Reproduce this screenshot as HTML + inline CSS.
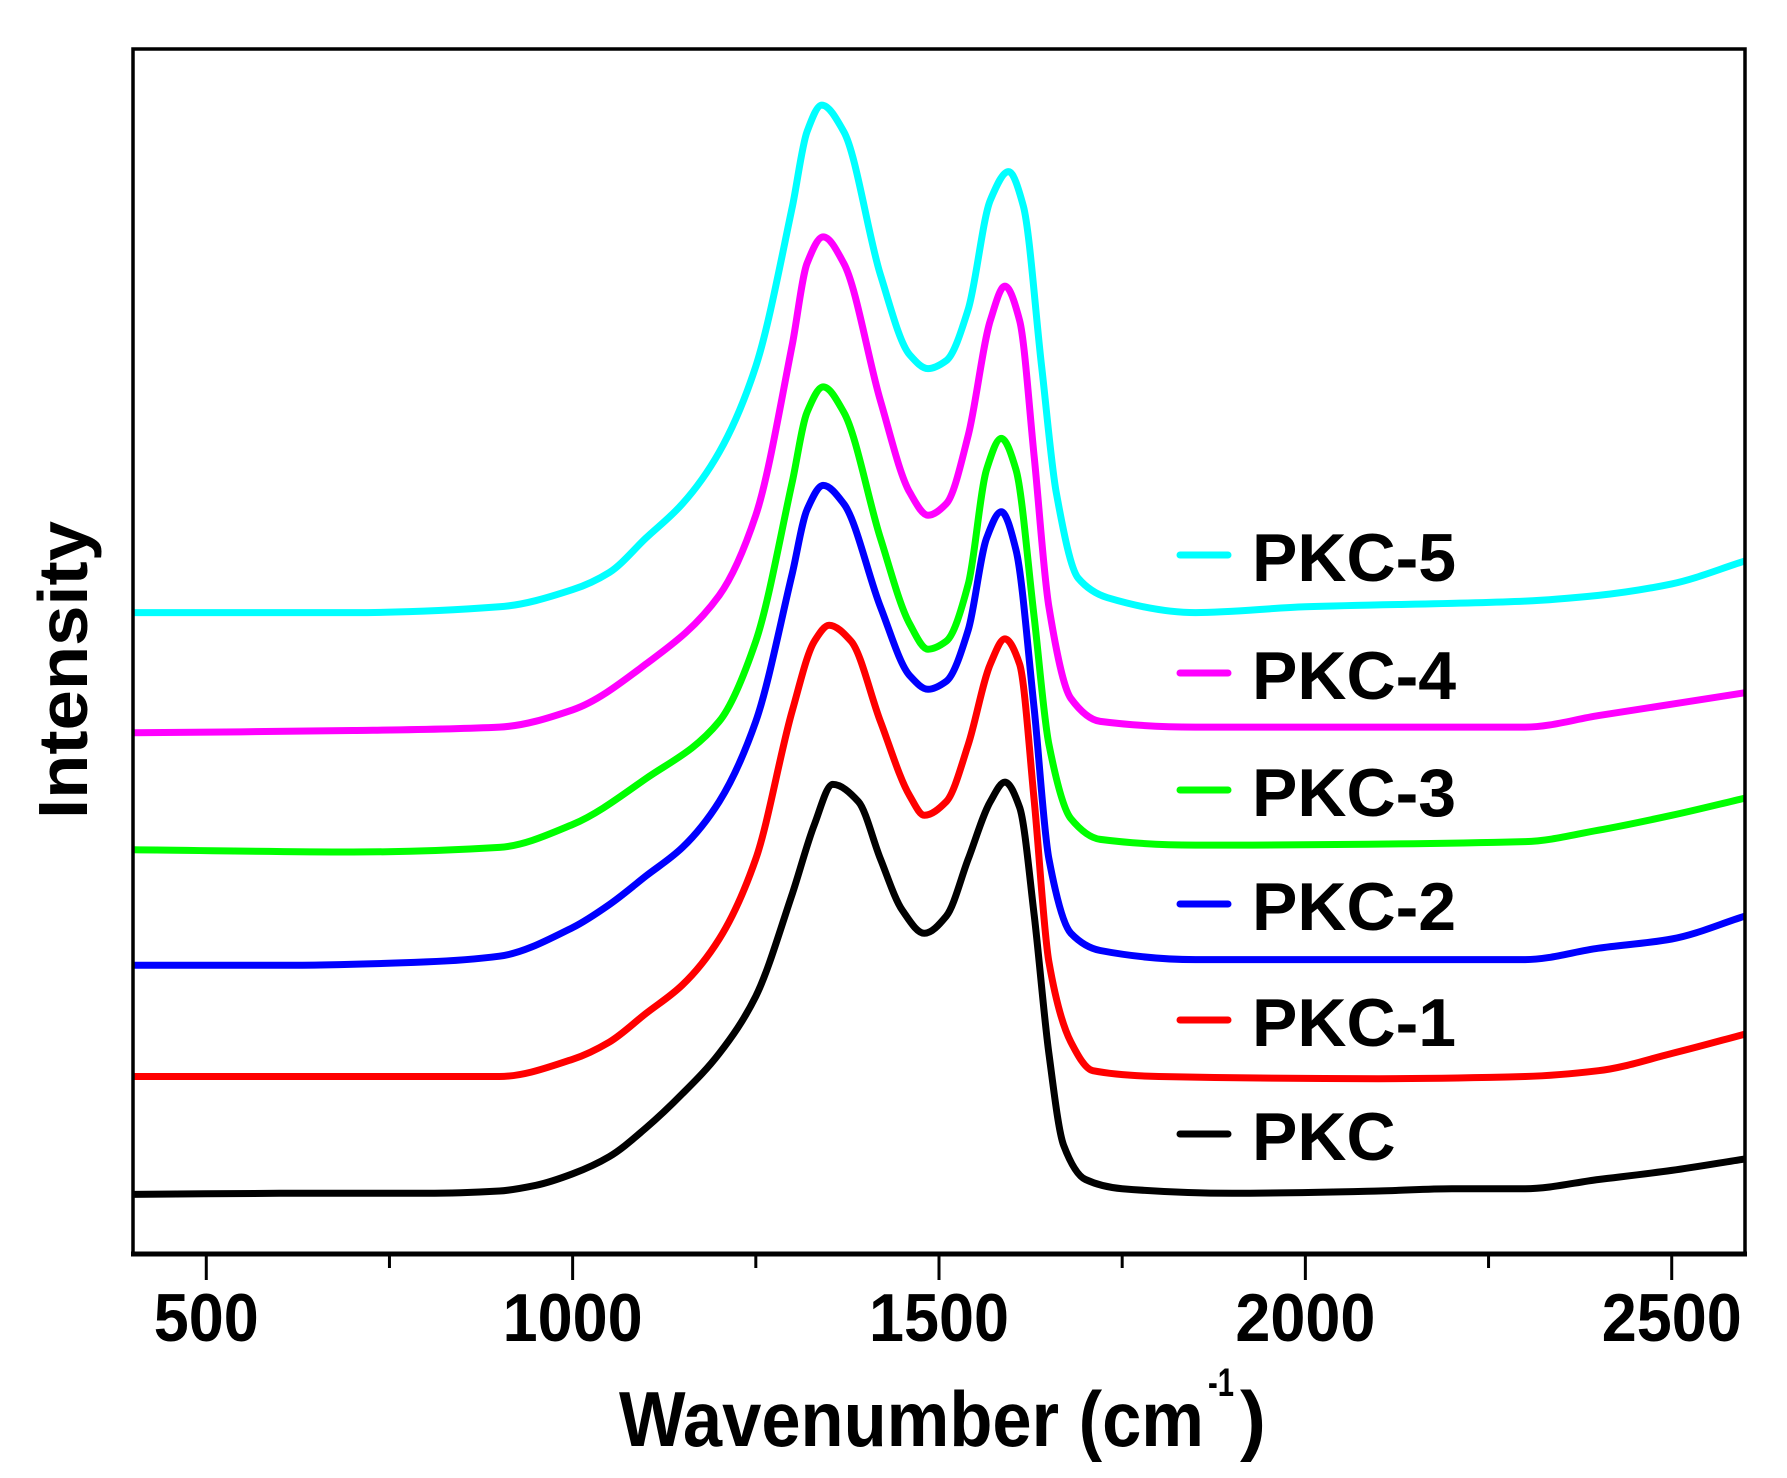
<!DOCTYPE html>
<html><head><meta charset="utf-8"><style>
html,body{margin:0;padding:0;background:#fff;}
svg{display:block;font-family:"Liberation Sans",Arial,sans-serif;font-weight:bold;}
</style></head><body>
<svg id="chart" width="1787" height="1478" viewBox="0 0 1787 1478" xmlns="http://www.w3.org/2000/svg">
<g id="plot"></g>
</svg>
<script>
const xTicks = [500,1000,1500,2000,2500];
const xMinorTicks = [750,1250,1750,2250];
const seriesNames = ["PKC","PKC-1","PKC-2","PKC-3","PKC-4","PKC-5"];
const seriesColors = ["#000000","#ff0000","#0000ff","#00ff00","#ff00ff","#00ffff"];
const xPKC = [400,600,800,900,950,1000,1050,1100,1150,1200,1250,1300,1330,1355,1390,1420,1450,1480,1510,1540,1570,1590,1610,1630,1650,1670,1700,1750,1900,2100,2200,2300,2400,2500,2600];
const yPKC = [52,53,53,55,60,70,85,110,140,175,225,315,375,410,395,345,300,280,295,345,395,412,390,295,175,95,65,57,53,55,57,57,65,73,83];
const xPKC1 = [400,600,800,900,1000,1050,1100,1150,1200,1250,1300,1330,1350,1380,1420,1460,1480,1510,1540,1570,1590,1610,1630,1650,1680,1710,1800,2100,2300,2400,2500,2600];
const yPKC1 = [155,155,155,155,170,185,210,235,275,345,475,535,549,535,465,400,383,395,445,515,537,515,395,255,185,160,155,153,155,160,175,192];
const xPKC2 = [400,600,800,900,1000,1050,1100,1150,1200,1250,1300,1320,1342,1370,1420,1460,1485,1510,1540,1565,1585,1605,1630,1650,1680,1720,1850,2000,2300,2400,2500,2600];
const yPKC2 = [252,252,255,260,285,305,330,355,395,465,595,650,671,655,565,505,493,500,545,625,648,615,475,345,280,265,257,257,257,267,275,295];
const xPKC3 = [400,700,900,1000,1100,1200,1250,1300,1320,1342,1370,1420,1460,1485,1510,1540,1565,1585,1605,1630,1650,1680,1720,1850,2300,2400,2500,2600];
const yPKC3 = [353,351,355,375,415,465,535,675,735,757,735,625,550,528,535,585,685,712,685,555,445,380,362,357,360,370,383,398];
const xPKC4 = [400,700,900,1000,1100,1200,1250,1300,1320,1342,1370,1420,1460,1485,1510,1540,1570,1590,1610,1630,1650,1680,1720,1850,2300,2400,2500,2600];
const yPKC4 = [455,457,460,475,515,575,645,795,865,888,865,745,665,645,655,715,815,845,815,695,565,485,465,460,460,470,480,490];
const xPKC5 = [400,700,900,1000,1050,1100,1150,1200,1250,1300,1320,1340,1370,1420,1460,1485,1510,1540,1570,1595,1615,1640,1660,1690,1730,1850,2000,2300,2400,2500,2600];
const yPKC5 = [560,560,565,580,595,625,655,700,775,915,980,1003,980,855,785,773,780,825,920,945,915,775,665,590,573,560,565,570,575,585,605];

const L=133,R=1745,T=49,B=1254;
const X0=400,X1=2600,Y0=0,Y1=1052;
function sx(v){return L+(v-X0)/(X1-X0)*(R-L);}
function sy(v){return B-(v-Y0)/(Y1-Y0)*(B-T);}
const NS="http://www.w3.org/2000/svg";
const g=document.getElementById('plot');
function mk(tag,attrs){const e=document.createElementNS(NS,tag);for(const k in attrs)e.setAttribute(k,attrs[k]);g.appendChild(e);return e;}

const xs=[xPKC,xPKC1,xPKC2,xPKC3,xPKC4,xPKC5];
const ys=[yPKC,yPKC1,yPKC2,yPKC3,yPKC4,yPKC5];
function pathFor(xa,ya){
  const n=xa.length;
  const px=xa.map(sx), py=ya.map(sy);
  const d=[],m=new Array(n);
  for(let i=0;i<n-1;i++) d.push((py[i+1]-py[i])/(px[i+1]-px[i]));
  m[0]=d[0]; m[n-1]=d[n-2];
  for(let i=1;i<n-1;i++){
    if(d[i-1]*d[i]<=0) m[i]=0;
    else { const h0=px[i]-px[i-1],h1=px[i+1]-px[i];
      const w1=2*h1+h0,w2=h1+2*h0; m[i]=(w1+w2)/(w1/d[i-1]+w2/d[i]); }
  }
  let s="M"+px[0].toFixed(1)+","+py[0].toFixed(1);
  for(let i=0;i<n-1;i++){
    const h=(px[i+1]-px[i])/3;
    s+=" C"+(px[i]+h).toFixed(1)+","+(py[i]+m[i]*h).toFixed(1)+" "+(px[i+1]-h).toFixed(1)+","+(py[i+1]-m[i+1]*h).toFixed(1)+" "+px[i+1].toFixed(1)+","+py[i+1].toFixed(1);
  }
  return s;
}
const clip=document.createElementNS(NS,'clipPath');clip.setAttribute('id','pc');
const cr=document.createElementNS(NS,'rect');cr.setAttribute('x',L);cr.setAttribute('y',T);cr.setAttribute('width',R-L);cr.setAttribute('height',B-T);
clip.appendChild(cr);g.appendChild(clip);
for(let s=0;s<6;s++){
  const e=mk('path',{d:pathFor(xs[s],ys[s]),fill:'none',stroke:seriesColors[s],'stroke-width':7,'stroke-linejoin':'round','clip-path':'url(#pc)'});
  
  
}
const frame=mk('rect',{x:L,y:T,width:R-L,height:B-T,fill:'none',stroke:'#000','stroke-width':3.5});


const bax=mk('line',{x1:L-2,x2:R+2,y1:B,y2:B,stroke:'#000','stroke-width':5});


xTicks.forEach(t=>{
  const tk=mk('line',{x1:sx(t),x2:sx(t),y1:B,y2:B+26,stroke:'#000','stroke-width':3});
  
  
  const tx=mk('text',{x:sx(t),y:1341,'text-anchor':'middle','font-size':68,textLength:String(t).length*35,lengthAdjust:'spacingAndGlyphs'});
  tx.textContent=t;
  
  
});
xMinorTicks.forEach(t=>{
  const tk=mk('line',{x1:sx(t),x2:sx(t),y1:B,y2:B+14,stroke:'#000','stroke-width':3});
  
  
});
const xt=mk('text',{x:619,y:1446,'font-size':78,textLength:585,lengthAdjust:'spacingAndGlyphs'});
xt.textContent="Wavenumber (cm";


const sup=mk('text',{x:1208,y:1396,'font-size':40,textLength:26,lengthAdjust:'spacingAndGlyphs'});sup.textContent="-1";


const par=mk('text',{x:1240,y:1446,'font-size':78});par.textContent=")";


const yt=mk('text',{x:0,y:0,'font-size':70,'text-anchor':'middle',transform:'translate(87,670) rotate(-90)',textLength:298,lengthAdjust:'spacingAndGlyphs'});
yt.textContent="Intensity";


const legY=[1137,1023,907,793,676,558];
for(let s=0;s<6;s++){
  const ln=mk('line',{x1:1180,x2:1228,y1:legY[s]-3,y2:legY[s]-3,stroke:seriesColors[s],'stroke-width':7,'stroke-linecap':'round'});
  
  
  const tx=mk('text',{x:1252,y:legY[s]+23,'font-size':68});
  tx.textContent=seriesNames[s];
  
  
}
</script>
</body></html>
